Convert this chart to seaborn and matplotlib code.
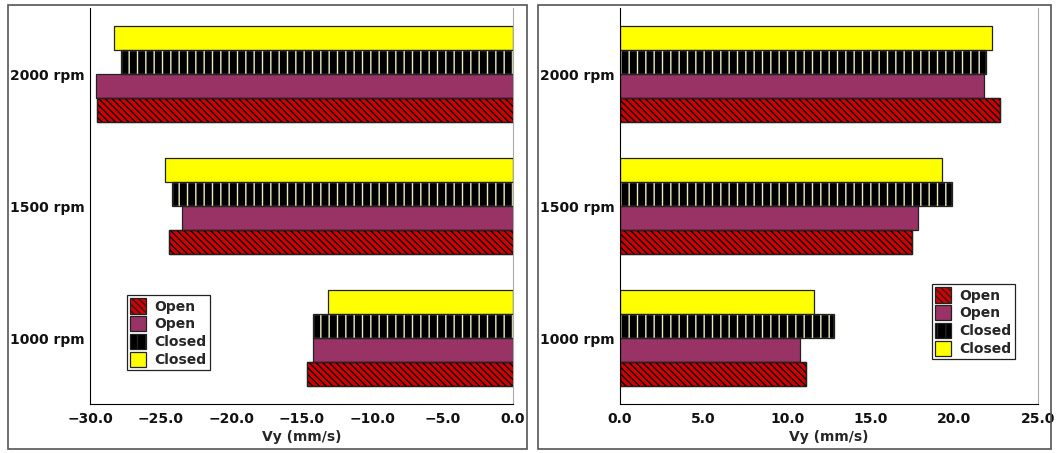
import matplotlib
matplotlib.use("Agg")
import matplotlib.pyplot as plt
import matplotlib.patches as mpatches
from matplotlib.ticker import FuncFormatter, MultipleLocator, FixedLocator
import seaborn as sns
import pandas as pd

# speeds, top to bottom
categories = ["2000 rpm", "1500 rpm", "1000 rpm"]
series_labels = ["Open", "Open", "Closed", "Closed"]

# left panel (negative Vy)
left_open_red = [-29.5, -24.4, -14.6]
left_open_purple = [-29.6, -23.5, -14.2]
left_closed_striped = [-27.8, -24.2, -14.2]
left_closed_yellow = [-28.3, -24.7, -13.1]

# right panel (positive Vy)
right_open_red = [22.7, 17.45, 11.1]
right_open_purple = [21.8, 17.8, 10.75]
right_closed_striped = [21.9, 19.85, 12.8]
right_closed_yellow = [22.25, 19.25, 11.6]

keys = ["open_red", "open_purple", "closed_striped", "closed_yellow"]
styles = {
    "open_red": dict(fc="#d40000", hatch="\\\\\\\\\\", hc="black"),
    "open_purple": dict(fc="#993366", hatch="", hc="black"),
    "closed_striped": dict(fc="black", hatch="||", hc="#ececc0"),
    "closed_yellow": dict(fc="#ffff00", hatch="", hc="black"),
}


def make_frame(vals):
    rows = []
    for k, v in zip(keys, vals):
        for c, x in zip(categories, v):
            rows.append({"speed": c, "series": k, "vy": x})
    return pd.DataFrame(rows)


def style_bar(ax, patch, key):
    st = styles[key]
    patch.set_facecolor(st["fc"])
    patch.set_linewidth(0.9)
    if st["hatch"]:
        patch.set_hatch(st["hatch"])
        if hasattr(patch, "set_hatchcolor"):
            patch.set_edgecolor("#222222")
            patch.set_hatchcolor(st["hc"])
        else:
            patch.set_edgecolor(st["hc"])
            ax.add_patch(mpatches.Rectangle(patch.get_xy(), patch.get_width(), patch.get_height(),
                                            fill=False, edgecolor="#222222", linewidth=0.9))
    else:
        patch.set_edgecolor("#222222")


def draw_panel(ax, vals, xlim, legend_loc):
    df = make_frame(vals)
    hue_order = ["closed_yellow", "closed_striped", "open_purple", "open_red"]
    sns.barplot(data=df, y="speed", x="vy", hue="series", order=categories,
                hue_order=hue_order, orient="h", width=0.727, ax=ax, legend=False)
    for key, cont in zip(hue_order, ax.containers):
        for p in cont.patches:
            style_bar(ax, p, key)

    ax.set_xlim(*xlim)
    ax.set_ylim(2.5, -0.5)
    ax.xaxis.set_major_locator(MultipleLocator(5))
    ax.xaxis.set_major_formatter(FuncFormatter(lambda v, p: f"{v:.1f}".replace("-", "\u2212")))
    ax.yaxis.set_major_locator(FixedLocator([0, 1, 2]))
    ax.set_yticklabels(categories)
    ax.yaxis.set_minor_locator(FixedLocator([-0.5, 0.5, 1.5, 2.5]))
    ax.tick_params(axis="y", which="major", length=0, pad=4)
    ax.tick_params(axis="y", which="minor", length=4, width=0.8)
    ax.tick_params(axis="x", length=4, width=0.8, pad=2)
    for lab in ax.get_xticklabels() + ax.get_yticklabels():
        lab.set_fontweight("bold")
        lab.set_fontsize(10)
        lab.set_color("#111111")
    ax.set_xlabel("Vy (mm/s)", fontsize=10, fontweight="bold", labelpad=3)
    ax.set_ylabel("")
    ax.spines["top"].set_visible(False)
    ax.spines["right"].set_color("#aaaaaa")
    ax.spines["left"].set_color("black")
    ax.spines["bottom"].set_color("black")

    handles = []
    for k in keys:
        st = styles[k]
        h = mpatches.Patch(facecolor=st["fc"], edgecolor="#222222", hatch=st["hatch"], linewidth=0.9)
        if st["hatch"] and hasattr(h, "set_hatchcolor"):
            h.set_hatchcolor(st["hc"])
        handles.append(h)
    leg = ax.legend(handles, series_labels, loc="upper left", bbox_to_anchor=legend_loc,
                    fancybox=False, framealpha=1, edgecolor="#222222",
                    prop={"weight": "bold", "size": 10}, handlelength=1.15, handleheight=1.3,
                    handletextpad=0.55, labelspacing=0.18, borderpad=0.25, borderaxespad=0)
    leg.get_frame().set_linewidth(0.9)


sns.set_style("white")
plt.rcParams["font.family"] = ["DejaVu Sans"]

fig = plt.figure(figsize=(10.59, 4.53), dpi=100)
ax_left = fig.add_axes([90 / 1059, 1 - 404 / 453, 423 / 1059, 396 / 453])
ax_right = fig.add_axes([620 / 1059, 1 - 404 / 453, 418 / 1059, 396 / 453])

draw_panel(ax_left,
           [left_open_red, left_open_purple, left_closed_striped, left_closed_yellow],
           (-30, 0), (37 / 423, 1 - 287 / 396))
draw_panel(ax_right,
           [right_open_red, right_open_purple, right_closed_striped, right_closed_yellow],
           (0, 25), (312 / 418, 1 - 276 / 396))

# panel frames
for x0, x1 in [(8, 527), (538, 1051)]:
    fig.patches.append(mpatches.Rectangle((x0 / 1059, 1 - 449 / 453), (x1 - x0) / 1059, 444 / 453,
                                          transform=fig.transFigure, fill=False,
                                          edgecolor="#555555", linewidth=1.2))

fig.savefig("out.png", dpi=100)
